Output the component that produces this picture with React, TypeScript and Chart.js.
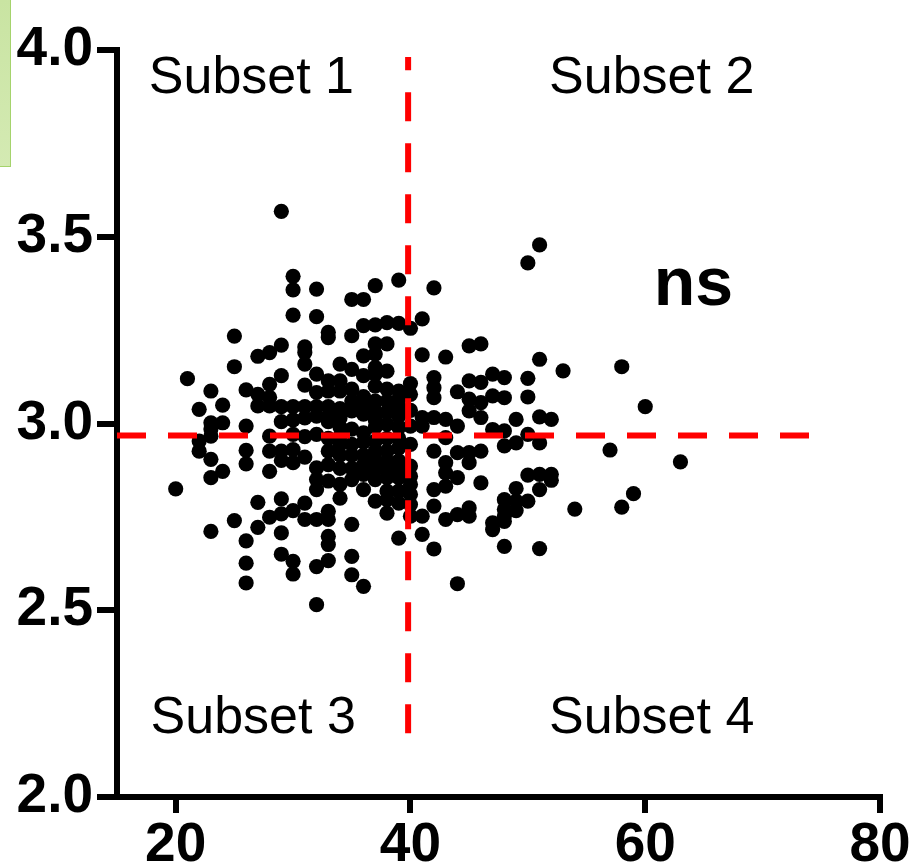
import React, { useEffect, useRef } from "react";
import { Chart, registerables } from "chart.js";

Chart.register(...registerables);

// x value of each column of dots
const columnX = [
  20, 21, 22, 23, 24, 25, 26, 27, 28, 29, 30, 31, 32, 33, 34, 35, 36, 37, 38, 39,
  40, 41, 42, 43, 44, 45, 46, 47, 48, 49, 50, 51, 52, 53, 54, 57, 58, 59, 60, 63,
];

// y values of the dots in each column (same order as columnX)
const columnY = [
  [2.825],
  [3.12],
  [3.038, 2.953, 2.926],
  [3.087, 3.002, 2.985, 2.966, 2.904, 2.855, 2.711],
  [3.049, 3.002, 2.872],
  [3.234, 3.152, 2.74],
  [3.09, 2.993, 2.928, 2.892, 2.686, 2.626, 2.573],
  [3.18, 3.078, 3.047, 2.789, 2.722],
  [3.19, 3.105, 3.07, 3.047, 2.966, 2.926, 2.872, 2.749],
  [3.568, 3.21, 3.128, 3.045, 3.005, 2.926, 2.901, 2.798, 2.758, 2.707, 2.65],
  [3.394, 3.358, 3.29, 3.045, 3.01, 2.971, 2.93, 2.895, 2.767, 2.631, 2.597],
  [3.205, 3.19, 3.159, 3.103, 3.045, 3.015, 2.965, 2.91, 2.787, 2.743],
  [3.36, 3.286, 3.132, 3.083, 3.045, 3.02, 2.971, 2.881, 2.85, 2.823, 2.743, 2.617, 2.515],
  [3.244, 3.23, 3.114, 3.087, 3.045, 3.02, 3.005, 2.96, 2.926, 2.89, 2.846, 2.765, 2.743, 2.698, 2.676, 2.633],
  [3.159, 3.114, 3.087, 3.04, 3.015, 2.99, 2.965, 2.944, 2.915, 2.88, 2.837, 2.8],
  [3.332, 3.235, 3.145, 3.092, 3.06, 3.034, 2.985, 2.944, 2.915, 2.88, 2.85, 2.73, 2.644, 2.595],
  [3.332, 3.262, 3.181, 3.128, 3.072, 3.05, 3.025, 2.975, 2.95, 2.915, 2.89, 2.864, 2.823, 2.564],
  [3.369, 3.264, 3.213, 3.186, 3.15, 3.132, 3.1, 3.06, 3.034, 3.01, 2.99, 2.953, 2.926, 2.9, 2.877, 2.85, 2.792],
  [3.27, 3.213, 3.14, 3.092, 3.06, 3.03, 2.998, 2.96, 2.926, 2.9, 2.88, 2.855, 2.819, 2.796, 2.76],
  [3.384, 3.268, 3.087, 3.065, 3.047, 3.02, 2.989, 2.96, 2.935, 2.9, 2.877, 2.855, 2.819, 2.787, 2.693],
  [3.255, 3.107, 3.078, 3.035, 2.993, 2.944, 2.886, 2.859, 2.837, 2.81, 2.783, 2.752],
  [3.28, 3.184, 3.016, 2.993, 2.752, 2.703],
  [3.363, 3.123, 3.096, 3.069, 3.016, 2.926, 2.823, 2.779, 2.664],
  [3.178, 3.011, 2.962, 2.895, 2.868, 2.832, 2.743],
  [3.085, 2.993, 2.922, 2.855, 2.756, 2.571],
  [3.208, 3.114, 3.065, 3.034, 2.922, 2.895, 2.774, 2.752],
  [3.213, 3.11, 3.056, 3.016, 2.926, 2.841],
  [3.132, 3.074, 2.984, 2.734, 2.716],
  [3.123, 3.069, 2.98, 2.94, 2.796, 2.77, 2.752, 2.738, 2.671],
  [3.011, 2.948, 2.826, 2.792, 2.767],
  [3.43, 3.121, 3.071, 2.971, 2.862, 2.792],
  [3.478, 3.172, 3.018, 2.948, 2.864, 2.823, 2.665],
  [3.011, 2.864, 2.848],
  [3.141],
  [2.771],
  [2.929],
  [3.152, 2.776],
  [2.812],
  [3.045],
  [2.897],
];

const xTicks = [20, 40, 60, 80];
const yTicks = [2.0, 2.5, 3.0, 3.5, 4.0];

// red dashed reference lines
const hLineX = [15, 75];
const hLineY = 2.968;
const vLineX = 39.8;
const vLineY = [2.171, 3.981];

const subsetLabels = ["Subset 1", "Subset 2", "Subset 3", "Subset 4"];
const sigLabel = "ns";

const FONT = '"Liberation Sans", Arial, Helvetica, sans-serif';

const textPlugin = {
  id: "quadrantText",
  afterDatasetsDraw(chart: any) {
    const { ctx, scales } = chart;
    const xs = scales.x;
    const ys = scales.y;
    const spots = [
      [26.45, 3.885],
      [60.55, 3.885],
      [26.6, 2.171],
      [60.55, 2.171],
    ];
    ctx.save();
    ctx.fillStyle = "#000";
    ctx.textAlign = "center";
    ctx.textBaseline = "alphabetic";
    ctx.font = `52px ${FONT}`;
    subsetLabels.forEach((t, i) => {
      ctx.fillText(t, xs.getPixelForValue(spots[i][0]), ys.getPixelForValue(spots[i][1]));
    });
    ctx.font = `bold 68px ${FONT}`;
    ctx.fillText(sigLabel, xs.getPixelForValue(64.1), ys.getPixelForValue(3.317));
    ctx.restore();
  },
};

export default function App() {
  const canvasRef = useRef<HTMLCanvasElement | null>(null);

  useEffect(() => {
    if (!canvasRef.current) return;
    const points: { x: number; y: number }[] = [];
    columnX.forEach((xv, i) => {
      columnY[i].forEach((yv) => points.push({ x: xv, y: yv }));
    });

    const chart = new Chart(canvasRef.current, {
      type: "scatter",
      data: {
        datasets: [
          {
            data: points,
            pointRadius: 7.6,
            pointBackgroundColor: "#000",
            pointBorderColor: "#000",
            pointBorderWidth: 0,
            pointHoverRadius: 7.6,
            order: 2,
          },
          {
            data: [
              { x: hLineX[0], y: hLineY },
              { x: hLineX[1], y: hLineY },
            ],
            showLine: true,
            borderColor: "#ff0000",
            borderWidth: 6,
            borderDash: [29, 22],
            pointRadius: 0,
            order: 0,
          },
          {
            data: [
              { x: vLineX, y: vLineY[0] },
              { x: vLineX, y: vLineY[1] },
            ],
            showLine: true,
            borderColor: "#ff0000",
            borderWidth: 6,
            borderDash: [29, 22],
            pointRadius: 0,
            order: 0,
          },
        ],
      },
      options: {
        responsive: false,
        animation: false,
        devicePixelRatio: 1,
        layout: { padding: { top: 50, right: 39, left: 0, bottom: 0 } },
        plugins: {
          legend: { display: false },
          tooltip: { enabled: false },
        },
        scales: {
          x: {
            type: "linear",
            min: 15,
            max: 80,
            afterFit: (s: any) => {
              s.height = 70;
            },
            afterBuildTicks: (s: any) => {
              s.ticks = xTicks.map((v) => ({ value: v }));
            },
            border: { display: true, color: "#000", width: 6 },
            grid: {
              drawOnChartArea: false,
              drawTicks: true,
              tickLength: 16,
              color: "#000",
              lineWidth: 6,
            },
            ticks: {
              color: "#000",
              font: { family: FONT, size: 55, weight: "bold" },
              padding: 0,
              maxRotation: 0,
              autoSkip: false,
              callback: (v: any) => String(v),
            },
          },
          y: {
            type: "linear",
            min: 2,
            max: 4,
            afterFit: (s: any) => {
              s.width = 117;
            },
            afterBuildTicks: (s: any) => {
              s.ticks = yTicks.map((v) => ({ value: v }));
            },
            border: { display: true, color: "#000", width: 6 },
            grid: {
              drawOnChartArea: false,
              drawTicks: true,
              tickLength: 20,
              color: "#000",
              lineWidth: 6,
            },
            ticks: {
              color: "#000",
              font: { family: FONT, size: 55, weight: "bold" },
              padding: 4,
              autoSkip: false,
              callback: (v: any) => Number(v).toFixed(1),
            },
          },
        },
      },
      plugins: [textPlugin],
    });
    return () => chart.destroy();
  }, []);

  return (
    <div
      style={{
        position: "absolute",
        left: 0,
        top: 0,
        width: 919,
        height: 867,
        background: "#fff",
        overflow: "hidden",
      }}
    >
      <canvas ref={canvasRef} width={919} height={867} style={{ display: "block" }} />
      <div
        style={{
          position: "absolute",
          left: 0,
          top: 0,
          width: 10,
          height: 166,
          background: "linear-gradient(#c9e4a2, #d4eab3)",
          borderRight: "1px solid #a5d36c",
          borderBottom: "1px solid #a5d36c",
        }}
      />
    </div>
  );
}
